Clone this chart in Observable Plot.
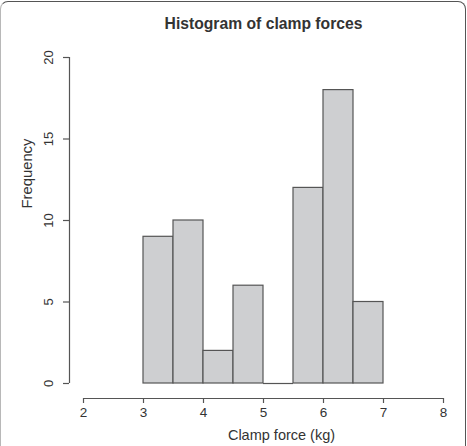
<!DOCTYPE html>
<html>
<head>
<meta charset="utf-8">
<script src="https://cdn.jsdelivr.net/npm/d3@7"></script>
<script src="https://cdn.jsdelivr.net/npm/@observablehq/plot@0.6"></script>
<style>
  html, body { margin: 0; padding: 0; background: #fff; }
  #wrap { position: relative; width: 467px; height: 446px; overflow: hidden; }
  #frame {
    position: absolute; left: 0px; top: 1px; width: 466px; height: 470px;
    border: 1.5px solid #555; border-left-color: #b8b8b8; border-radius: 8px;
    box-sizing: border-box; pointer-events: none;
  }
  #chart { position: absolute; left: 0; top: 0; }
  svg { font-family: "Liberation Sans", Arial, Helvetica, sans-serif; }
</style>
</head>
<body>
<div id="wrap">
  <div id="chart"></div>
  <div id="frame"></div>
</div>
<script>
// Histogram bins (kg) and frequencies
const binStarts = [3.0, 3.5, 4.0, 4.5, 5.0, 5.5, 6.0, 6.5];
const binEnds   = [3.5, 4.0, 4.5, 5.0, 5.5, 6.0, 6.5, 7.0];
const counts    = [9, 10, 2, 6, 0, 12, 18, 5];

const xTicks = [2, 3, 4, 5, 6, 7, 8];
const yTicks = [0, 5, 10, 15, 20];

const titleText = "Histogram of clamp forces";
const xLabel = "Clamp force (kg)";
const yLabel = "Frequency";

const bins = binStarts.map((s, i) => ({x1: s, x2: binEnds[i], count: counts[i]}));

const axisColor = "#555";

const chart = Plot.plot({
  width: 467,
  height: 446,
  marginLeft: 83,
  marginRight: 24,
  marginTop: 57,
  marginBottom: 63,
  style: {fontFamily: '"Liberation Sans", Arial, Helvetica, sans-serif', background: "transparent"},
  x: {domain: [d3.min(xTicks), d3.max(xTicks)], axis: null},
  y: {domain: [d3.min(yTicks), d3.max(yTicks)], axis: null},
  marks: [
    // bars
    Plot.rectY(bins.filter(d => d.count > 0), {
      x1: "x1", x2: "x2", y1: 0, y2: "count",
      fill: "#cecfd1", stroke: "#555", strokeWidth: 1.2
    }),
    // zero-height bin still shows its bottom edge
    Plot.ruleY(bins.filter(d => d.count === 0), {
      y: "count", x1: "x1", x2: "x2", stroke: "#555", strokeWidth: 1.2
    }),
    // y axis (offset from plot region, R style)
    Plot.ruleX([d3.min(xTicks)], {
      x: d => d, y1: d3.min(yTicks), y2: d3.max(yTicks), dx: -14,
      stroke: axisColor, strokeWidth: 1.2
    }),
    Plot.axisY({
      anchor: "left", ticks: yTicks, tickSize: 6, dx: -14,
      tickRotate: -90, tickPadding: 11, tickFormat: d => String(d),
      fontSize: 13, fill: "#333", stroke: axisColor, strokeWidth: 1.2, label: null
    }),
    // x axis
    Plot.ruleY([d3.min(yTicks)], {
      y: d => d, x1: d3.min(xTicks), x2: d3.max(xTicks), dy: 15,
      stroke: axisColor, strokeWidth: 1.2
    }),
    Plot.axisX({
      anchor: "bottom", ticks: xTicks, tickSize: 5, dy: 15, tickPadding: 4,
      tickFormat: d => String(d),
      fontSize: 13.5, fill: "#333", stroke: axisColor, strokeWidth: 1.2, label: null
    }),
    // title
    Plot.text([titleText], {
      text: d => d, frameAnchor: "top", dy: -34, lineAnchor: "middle",
      fontSize: 15.7, fontWeight: "bold", fill: "#333"
    }),
    // x label
    Plot.text([xLabel], {
      text: d => d, frameAnchor: "bottom", dx: 18, dy: 52, lineAnchor: "middle",
      fontSize: 14.5, fill: "#333"
    }),
    // y label
    Plot.text([yLabel], {
      text: d => d, frameAnchor: "left", dx: -56, dy: -12, rotate: -90, lineAnchor: "middle",
      fontSize: 14.8, fill: "#333"
    })
  ]
});

document.getElementById("chart").appendChild(chart);
</script>
</body>
</html>
